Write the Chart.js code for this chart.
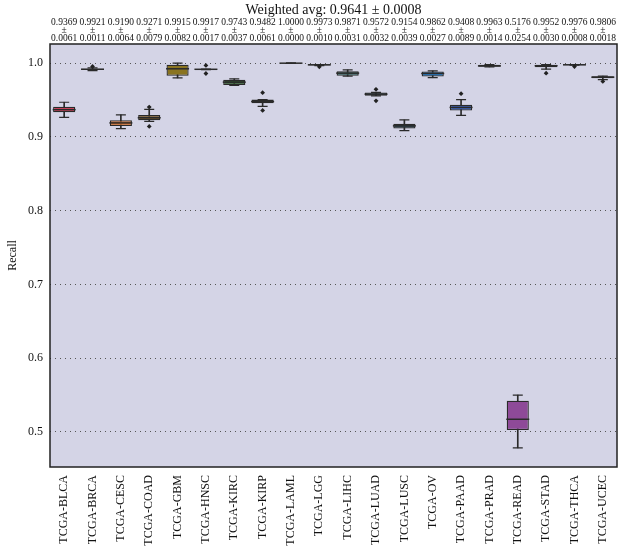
<!DOCTYPE html>
<html>
<head>
<meta charset="utf-8">
<script src="https://cdn.jsdelivr.net/npm/chart.js@4"></script>
<style>
  body { margin: 0; background: #fff; }
  #wrap { width: 618px; height: 550px; }
</style>
</head>
<body>
<div id="wrap"><canvas id="myChart" width="618" height="550"></canvas></div>
<script>
// cohorts and per-cohort recall summary
const labels = ["TCGA-BLCA", "TCGA-BRCA", "TCGA-CESC", "TCGA-COAD", "TCGA-GBM", "TCGA-HNSC", "TCGA-KIRC",
  "TCGA-KIRP", "TCGA-LAML", "TCGA-LGG", "TCGA-LIHC", "TCGA-LUAD", "TCGA-LUSC", "TCGA-OV", "TCGA-PAAD",
  "TCGA-PRAD", "TCGA-READ", "TCGA-STAD", "TCGA-THCA", "TCGA-UCEC"];
const means = ["0.9369", "0.9921", "0.9190", "0.9271", "0.9915", "0.9917", "0.9743", "0.9482", "1.0000", "0.9973",
  "0.9871", "0.9572", "0.9154", "0.9862", "0.9408", "0.9963", "0.5176", "0.9952", "0.9976", "0.9806"];
const stds = ["0.0061", "0.0011", "0.0064", "0.0079", "0.0082", "0.0017", "0.0037", "0.0061", "0.0000", "0.0010",
  "0.0031", "0.0032", "0.0039", "0.0027", "0.0089", "0.0014", "0.0254", "0.0030", "0.0008", "0.0018"];
const q1 = [0.9334, 0.9908, 0.9149, 0.9226, 0.9830, 0.9913, 0.9705, 0.9455, 1.0, 0.9968,
  0.9830, 0.9558, 0.9114, 0.9820, 0.9357, 0.9950, 0.5027, 0.9946, 0.9972, 0.9797];
const q3 = [0.9410, 0.9924, 0.9226, 0.9299, 0.9980, 0.9921, 0.9776, 0.9506, 1.0, 0.9982,
  0.9890, 0.9604, 0.9180, 0.9887, 0.9438, 0.9980, 0.5424, 0.9980, 0.9982, 0.9824];
const medians = [0.9370, 0.9918, 0.9190, 0.9260, 0.9924, 0.9917, 0.9743, 0.9480, 1.0, 0.9978,
  0.9865, 0.9580, 0.9150, 0.9860, 0.9400, 0.9963, 0.5172, 0.9965, 0.9978, 0.9810];
const whiskLow = [0.9266, 0.9900, 0.9114, 0.9210, 0.9800, 0.9913, 0.9700, 0.9415, 1.0, 0.9968,
  0.9825, 0.9558, 0.9086, 0.9803, 0.9293, 0.9950, 0.4784, 0.9920, 0.9972, 0.9776];
const whiskHigh = [0.9470, 0.9935, 0.9300, 0.9374, 1.0, 0.9921, 0.9786, 0.9506, 1.0, 0.9982,
  0.9910, 0.9604, 0.9230, 0.9895, 0.9506, 0.9980, 0.5500, 0.9980, 0.9982, 0.9824];
const outlierCats = ["TCGA-BRCA", "TCGA-COAD", "TCGA-COAD", "TCGA-HNSC", "TCGA-HNSC", "TCGA-KIRP", "TCGA-KIRP",
  "TCGA-LGG", "TCGA-LUAD", "TCGA-LUAD", "TCGA-PAAD", "TCGA-STAD", "TCGA-THCA", "TCGA-UCEC"];
const outlierVals = [0.9955, 0.9405, 0.9143, 0.9970, 0.9860, 0.9600, 0.9360,
  0.9950, 0.9646, 0.9490, 0.9586, 0.9865, 0.9955, 0.9753];
const boxColors = ["#d9455f", "#2b2b3a", "#d8702a", "#7a5a28", "#8a7420", "#4a4a4a", "#2f5a2a", "#2e8b2e",
  "#333333", "#8a8a9a", "#2a6660", "#254a5a", "#2d4a5a", "#2a82d0", "#3c62b8", "#4a3a4a", "#8e4a98",
  "#8a7a8f", "#3a3a3a", "#222222"];
const yTicks = [0.5, 0.6, 0.7, 0.8, 0.9, 1.0];
const title = "Weighted avg: 0.9641 \u00b1 0.0008";

const serif = "'Liberation Serif', 'DejaVu Serif', serif";
const edge = "#2a2a2a";

// background, frame and the mean/std text above each box
const decorPlugin = {
  id: "decor",
  beforeDraw(chart) {
    const { ctx, chartArea: a } = chart;
    ctx.save();
    ctx.fillStyle = "#d4d4e6";
    ctx.fillRect(a.left, a.top, a.right - a.left, a.bottom - a.top);
    ctx.restore();
  },
  afterDraw(chart) {
    const { ctx, chartArea: a } = chart;
    const xs = chart.scales.x;
    ctx.save();
    ctx.strokeStyle = "#222";
    ctx.lineWidth = 1.5;
    ctx.strokeRect(a.left, a.top, a.right - a.left, a.bottom - a.top);
    ctx.fillStyle = "#111";
    ctx.textAlign = "center";
    ctx.textBaseline = "middle";
    ctx.font = "14px " + serif;
    ctx.fillText(title, (a.left + a.right) / 2, 10);
    ctx.font = "9.5px " + serif;
    for (let i = 0; i < labels.length; i++) {
      const x = xs.getPixelForValue(i);
      ctx.fillText(means[i], x, 22);
      ctx.fillText("\u00b1", x, 30);
      ctx.fillText(stds[i], x, 38);
    }
    ctx.restore();
  }
};

const data = {
  labels: labels,
  datasets: [
    {
      type: "bar",
      data: labels.map((l, i) => [whiskLow[i], whiskHigh[i]]),
      backgroundColor: edge,
      borderWidth: 0,
      barThickness: 1,
      grouped: false,
      order: 5
    },
    {
      type: "bar",
      data: labels.map((l, i) => [q1[i], q3[i]]),
      backgroundColor: boxColors,
      borderColor: edge,
      borderWidth: 1.3,
      borderSkipped: false,
      barPercentage: 0.78,
      categoryPercentage: 1,
      grouped: false,
      order: 4
    },
    {
      type: "line",
      data: whiskLow,
      showLine: false,
      pointStyle: "line",
      pointRadius: 5,
      pointBorderColor: edge,
      pointBorderWidth: 1.2,
      order: 3
    },
    {
      type: "line",
      data: whiskHigh,
      showLine: false,
      pointStyle: "line",
      pointRadius: 5,
      pointBorderColor: edge,
      pointBorderWidth: 1.2,
      order: 3
    },
    {
      type: "line",
      data: medians,
      showLine: false,
      pointStyle: "line",
      pointRadius: 11.5,
      pointBorderColor: edge,
      pointBorderWidth: 1.5,
      order: 2
    },
    {
      type: "line",
      data: outlierCats.map((c, i) => ({ x: c, y: outlierVals[i] })),
      showLine: false,
      pointStyle: "rectRot",
      pointRadius: 2.4,
      pointBackgroundColor: "#222",
      pointBorderColor: "#222",
      pointBorderWidth: 0,
      order: 1
    }
  ]
};

const config = {
  type: "bar",
  data: data,
  options: {
    responsive: false,
    animation: false,
    layout: { autoPadding: false, padding: { top: 44, right: 1, left: 0, bottom: 0 } },
    plugins: {
      legend: { display: false },
      tooltip: { enabled: false },
      title: { display: false }
    },
    scales: {
      x: {
        offset: true,
        grid: { display: false, drawTicks: false },
        border: { display: false },
        ticks: {
          color: "#111",
          font: { family: serif, size: 12 },
          minRotation: 90,
          maxRotation: 90,
          autoSkip: false,
          padding: 8
        },
        afterFit(scale) {
          scale.height = 83;
          scale.paddingLeft = 0;
          scale.paddingRight = 0;
        }
      },
      y: {
        min: 0.4525,
        max: 1.026,
        afterBuildTicks(scale) { scale.ticks = yTicks.map(v => ({ value: v })); },
        grid: { color: "#555", lineWidth: 1, drawTicks: false },
        border: { display: false, dash: [1, 4] },
        ticks: {
          color: "#111",
          font: { family: serif, size: 12 },
          padding: 7,
          callback: v => v.toFixed(1)
        },
        title: {
          display: true,
          text: "Recall",
          color: "#111",
          font: { family: serif, size: 12 },
          padding: { top: 6, bottom: 0 }
        },
        afterFit(scale) {
          scale.width = 50;
          scale.paddingTop = 0;
          scale.paddingBottom = 0;
        }
      }
    }
  },
  plugins: [decorPlugin]
};

new Chart(document.getElementById("myChart"), config);
</script>
</body>
</html>
